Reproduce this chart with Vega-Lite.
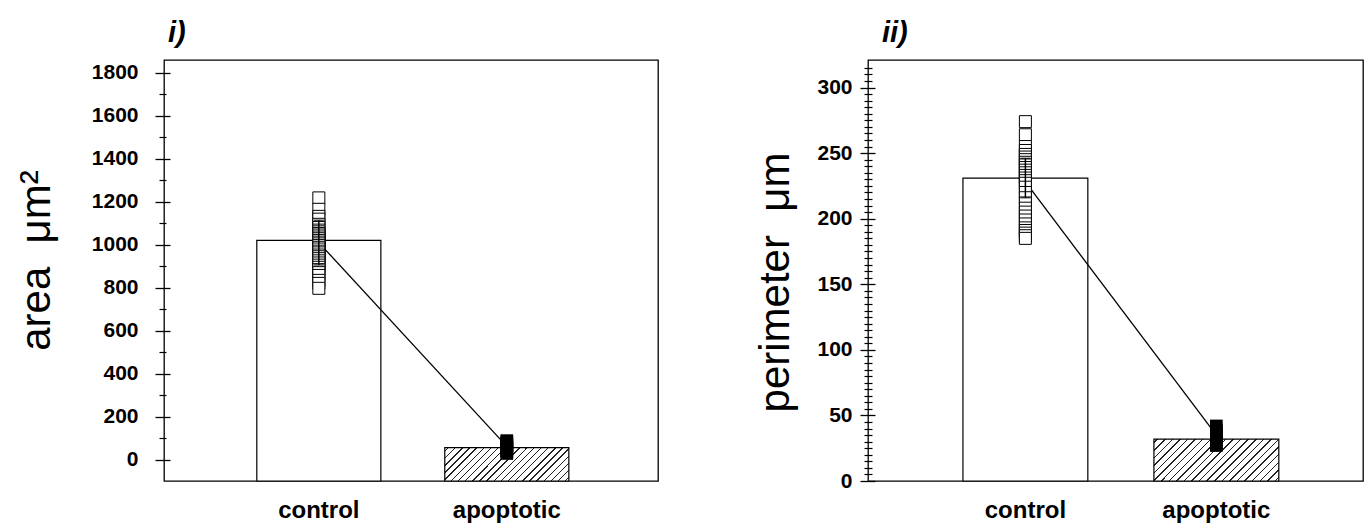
{
  "$schema": "https://vega.github.io/schema/vega-lite/v6.json",
  "padding": {"left": 14, "top": 18, "right": 2, "bottom": 2},
  "spacing": 210,
  "bounds": "flush",
  "datasets": {
    "area_bars": [
      {"group": "control", "area": 1020},
      {"group": "apoptotic", "area": 55}
    ],
    "area_points": [
      {"group": "control", "area": 1218}, {"group": "control", "area": 1165}, {"group": "control", "area": 1132},
      {"group": "control", "area": 1119}, {"group": "control", "area": 1095}, {"group": "control", "area": 1080},
      {"group": "control", "area": 1068}, {"group": "control", "area": 1060}, {"group": "control", "area": 1052},
      {"group": "control", "area": 1045}, {"group": "control", "area": 1036}, {"group": "control", "area": 1028},
      {"group": "control", "area": 1020}, {"group": "control", "area": 1012}, {"group": "control", "area": 1004},
      {"group": "control", "area": 996}, {"group": "control", "area": 988}, {"group": "control", "area": 980},
      {"group": "control", "area": 970}, {"group": "control", "area": 962}, {"group": "control", "area": 952},
      {"group": "control", "area": 944}, {"group": "control", "area": 935}, {"group": "control", "area": 925},
      {"group": "control", "area": 915}, {"group": "control", "area": 905}, {"group": "control", "area": 895},
      {"group": "control", "area": 884}, {"group": "control", "area": 870}, {"group": "control", "area": 857},
      {"group": "control", "area": 834}, {"group": "control", "area": 820}, {"group": "control", "area": 797},
      {"group": "apoptotic", "area": 28}, {"group": "apoptotic", "area": 34}, {"group": "apoptotic", "area": 40},
      {"group": "apoptotic", "area": 46}, {"group": "apoptotic", "area": 52}, {"group": "apoptotic", "area": 58},
      {"group": "apoptotic", "area": 64}, {"group": "apoptotic", "area": 70}, {"group": "apoptotic", "area": 76},
      {"group": "apoptotic", "area": 82}, {"group": "apoptotic", "area": 88}
    ],
    "area_summary": [
      {"group": "control", "mean": 1010, "lo": 906, "hi": 1114},
      {"group": "apoptotic", "mean": 61, "lo": 45, "hi": 77}
    ],
    "perim_bars": [
      {"group": "control", "perimeter": 231},
      {"group": "apoptotic", "perimeter": 32}
    ],
    "perim_points": [
      {"group": "control", "perimeter": 274}, {"group": "control", "perimeter": 264}, {"group": "control", "perimeter": 255},
      {"group": "control", "perimeter": 252}, {"group": "control", "perimeter": 249}, {"group": "control", "perimeter": 247},
      {"group": "control", "perimeter": 245}, {"group": "control", "perimeter": 243}, {"group": "control", "perimeter": 241},
      {"group": "control", "perimeter": 239}, {"group": "control", "perimeter": 237}, {"group": "control", "perimeter": 235},
      {"group": "control", "perimeter": 233}, {"group": "control", "perimeter": 231}, {"group": "control", "perimeter": 229},
      {"group": "control", "perimeter": 227}, {"group": "control", "perimeter": 224}, {"group": "control", "perimeter": 220},
      {"group": "control", "perimeter": 216}, {"group": "control", "perimeter": 212}, {"group": "control", "perimeter": 208},
      {"group": "control", "perimeter": 205}, {"group": "control", "perimeter": 202}, {"group": "control", "perimeter": 199},
      {"group": "control", "perimeter": 196}, {"group": "control", "perimeter": 193}, {"group": "control", "perimeter": 191},
      {"group": "control", "perimeter": 189}, {"group": "control", "perimeter": 187}, {"group": "control", "perimeter": 185},
      {"group": "apoptotic", "perimeter": 27}, {"group": "apoptotic", "perimeter": 29}, {"group": "apoptotic", "perimeter": 31},
      {"group": "apoptotic", "perimeter": 33}, {"group": "apoptotic", "perimeter": 35}, {"group": "apoptotic", "perimeter": 37},
      {"group": "apoptotic", "perimeter": 39}, {"group": "apoptotic", "perimeter": 42}
    ],
    "perim_summary": [
      {"group": "control", "mean": 228, "lo": 216, "hi": 246},
      {"group": "apoptotic", "mean": 35, "lo": 31, "hi": 39}
    ]
  },
  "hconcat": [
    {
      "width": 494,
      "height": 421,
      "title": {"text": "i)", "dx": 4, "offset": 12, "frame": "group"},
      "encoding": {
        "x": {
          "field": "group", "type": "nominal",
          "scale": {"type": "band", "domain": ["control", "apoptotic"], "paddingInner": 0.34, "paddingOuter": 0.484, "align": 0.51},
          "axis": {"title": null, "labelAngle": 0, "ticks": false, "tickSize": 0, "domain": false, "labelFontSize": 24, "labelFontWeight": "bold", "labelPadding": 17, "labelBaseline": "top"}
        }
      },
      "layer": [
        {
          "data": {"name": "area_bars"},
          "transform": [{"filter": "datum.group === 'control'"}],
          "mark": {"type": "bar", "fill": "white", "stroke": "black", "strokeWidth": 1.2},
          "encoding": {
            "y": {
              "field": "area", "type": "quantitative",
              "scale": {"domain": [-100, 1860], "nice": false, "zero": false},
              "axis": {
                "orient": "left", "values": [0, 200, 400, 600, 800, 1000, 1200, 1400, 1600, 1800], "format": "d",
                "grid": false, "domain": false, "tickSize": 15, "offset": -6, "tickWidth": 1.3,
                "labelPadding": 17, "labelFontSize": 21, "labelFontWeight": "bold",
                "title": "area \u00a0μm²", "titleFontSize": 42, "titleFontWeight": "normal",
                "titleAngle": -90, "titleX": -121, "titleY": 200, "titleBaseline": "alphabetic", "titleAlign": "center"
              }
            },
            "y2": {"datum": -100}
          }
        },
        {
          "data": {"name": "area_bars"},
          "transform": [{"filter": "datum.group === 'apoptotic'"}],
          "mark": {
            "type": "bar", "stroke": "black", "strokeWidth": 1.2,
            "fill": {
              "gradient": "linear", "x1": 0, "y1": 0, "x2": 1.183, "y2": 0.317,
              "stops": [
                {"offset": 0, "color": "white"},
                {"offset": 0.0182, "color": "white"}, {"offset": 0.0182, "color": "#222"}, {"offset": 0.0272, "color": "#222"}, {"offset": 0.0272, "color": "white"},
                {"offset": 0.0637, "color": "white"}, {"offset": 0.0637, "color": "#222"}, {"offset": 0.0727, "color": "#222"}, {"offset": 0.0727, "color": "white"},
                {"offset": 0.1091, "color": "white"}, {"offset": 0.1091, "color": "#222"}, {"offset": 0.1181, "color": "#222"}, {"offset": 0.1181, "color": "white"},
                {"offset": 0.1546, "color": "white"}, {"offset": 0.1546, "color": "#222"}, {"offset": 0.1636, "color": "#222"}, {"offset": 0.1636, "color": "white"},
                {"offset": 0.2000, "color": "white"}, {"offset": 0.2000, "color": "#222"}, {"offset": 0.2090, "color": "#222"}, {"offset": 0.2090, "color": "white"},
                {"offset": 0.2455, "color": "white"}, {"offset": 0.2455, "color": "#222"}, {"offset": 0.2545, "color": "#222"}, {"offset": 0.2545, "color": "white"},
                {"offset": 0.2910, "color": "white"}, {"offset": 0.2910, "color": "#222"}, {"offset": 0.3000, "color": "#222"}, {"offset": 0.3000, "color": "white"},
                {"offset": 0.3364, "color": "white"}, {"offset": 0.3364, "color": "#222"}, {"offset": 0.3454, "color": "#222"}, {"offset": 0.3454, "color": "white"},
                {"offset": 0.3819, "color": "white"}, {"offset": 0.3819, "color": "#222"}, {"offset": 0.3909, "color": "#222"}, {"offset": 0.3909, "color": "white"},
                {"offset": 0.4273, "color": "white"}, {"offset": 0.4273, "color": "#222"}, {"offset": 0.4363, "color": "#222"}, {"offset": 0.4363, "color": "white"},
                {"offset": 0.4728, "color": "white"}, {"offset": 0.4728, "color": "#222"}, {"offset": 0.4818, "color": "#222"}, {"offset": 0.4818, "color": "white"},
                {"offset": 0.5182, "color": "white"}, {"offset": 0.5182, "color": "#222"}, {"offset": 0.5272, "color": "#222"}, {"offset": 0.5272, "color": "white"},
                {"offset": 0.5637, "color": "white"}, {"offset": 0.5637, "color": "#222"}, {"offset": 0.5727, "color": "#222"}, {"offset": 0.5727, "color": "white"},
                {"offset": 0.6091, "color": "white"}, {"offset": 0.6091, "color": "#222"}, {"offset": 0.6181, "color": "#222"}, {"offset": 0.6181, "color": "white"},
                {"offset": 0.6546, "color": "white"}, {"offset": 0.6546, "color": "#222"}, {"offset": 0.6636, "color": "#222"}, {"offset": 0.6636, "color": "white"},
                {"offset": 0.7000, "color": "white"}, {"offset": 0.7000, "color": "#222"}, {"offset": 0.7090, "color": "#222"}, {"offset": 0.7090, "color": "white"},
                {"offset": 0.7455, "color": "white"}, {"offset": 0.7455, "color": "#222"}, {"offset": 0.7545, "color": "#222"}, {"offset": 0.7545, "color": "white"},
                {"offset": 0.7910, "color": "white"}, {"offset": 0.7910, "color": "#222"}, {"offset": 0.8000, "color": "#222"}, {"offset": 0.8000, "color": "white"},
                {"offset": 0.8364, "color": "white"}, {"offset": 0.8364, "color": "#222"}, {"offset": 0.8454, "color": "#222"}, {"offset": 0.8454, "color": "white"},
                {"offset": 0.8819, "color": "white"}, {"offset": 0.8819, "color": "#222"}, {"offset": 0.8909, "color": "#222"}, {"offset": 0.8909, "color": "white"},
                {"offset": 0.9273, "color": "white"}, {"offset": 0.9273, "color": "#222"}, {"offset": 0.9363, "color": "#222"}, {"offset": 0.9363, "color": "white"},
                {"offset": 0.9728, "color": "white"}, {"offset": 0.9728, "color": "#222"}, {"offset": 0.9818, "color": "#222"}, {"offset": 0.9818, "color": "white"},
                {"offset": 1, "color": "white"}
              ]
            }
          },
          "encoding": {
            "y": {"field": "area", "type": "quantitative", "scale": {"domain": [-100, 1860], "nice": false, "zero": false}, "axis": null},
            "y2": {"datum": -100}
          }
        },
        {
          "data": {"name": "area_summary"},
          "mark": {"type": "line", "color": "black", "strokeWidth": 1.3},
          "encoding": {
            "y": {
              "field": "mean", "type": "quantitative",
              "scale": {"domain": [-100, 1860], "nice": false, "zero": false},
              "axis": {
                "orient": "left", "values": [100, 300, 500, 700, 900, 1100, 1300, 1500, 1700],
                "labels": false, "grid": false, "domain": false, "tickSize": 7, "offset": -2, "tickWidth": 1.2, "title": null
              }
            }
          }
        },
        {
          "data": {"name": "area_points"},
          "transform": [{"filter": "datum.group === 'control'"}],
          "mark": {"type": "point", "shape": "square", "filled": true, "fill": "white", "stroke": "black", "strokeWidth": 1, "size": 144, "opacity": 1},
          "encoding": {
            "y": {"field": "area", "type": "quantitative", "scale": {"domain": [-100, 1860], "nice": false, "zero": false}, "axis": null}
          }
        },
        {
          "data": {"name": "area_points"},
          "transform": [{"filter": "datum.group === 'apoptotic'"}],
          "mark": {"type": "point", "shape": "square", "filled": true, "color": "black", "size": 160, "opacity": 1},
          "encoding": {
            "y": {"field": "area", "type": "quantitative", "scale": {"domain": [-100, 1860], "nice": false, "zero": false}, "axis": null}
          }
        },
        {
          "data": {"name": "area_summary"},
          "mark": {"type": "rule", "color": "black", "strokeWidth": 1.5},
          "encoding": {
            "y": {"field": "lo", "type": "quantitative", "scale": {"domain": [-100, 1860], "nice": false, "zero": false}, "axis": null},
            "y2": {"field": "hi"}
          }
        },
        {
          "data": {"name": "area_summary"},
          "mark": {"type": "tick", "orient": "horizontal", "color": "black", "size": 10, "thickness": 1.5},
          "encoding": {
            "y": {"field": "lo", "type": "quantitative", "scale": {"domain": [-100, 1860], "nice": false, "zero": false}, "axis": null}
          }
        },
        {
          "data": {"name": "area_summary"},
          "mark": {"type": "tick", "orient": "horizontal", "color": "black", "size": 10, "thickness": 1.5},
          "encoding": {
            "y": {"field": "hi", "type": "quantitative", "scale": {"domain": [-100, 1860], "nice": false, "zero": false}, "axis": null}
          }
        }
      ],
      "resolve": {"axis": {"y": "independent"}}
    },
    {
      "width": 495,
      "height": 421,
      "title": {"text": "ii)", "dx": 14, "offset": 12, "frame": "group"},
      "encoding": {
        "x": {
          "field": "group", "type": "nominal",
          "scale": {"type": "band", "domain": ["control", "apoptotic"], "paddingInner": 0.346, "paddingOuter": 0.469, "align": 0.53},
          "axis": {"title": null, "labelAngle": 0, "ticks": false, "tickSize": 0, "domain": false, "labelFontSize": 24, "labelFontWeight": "bold", "labelPadding": 17, "labelBaseline": "top"}
        }
      },
      "layer": [
        {
          "data": {"name": "perim_bars"},
          "transform": [{"filter": "datum.group === 'control'"}],
          "mark": {"type": "bar", "fill": "white", "stroke": "black", "strokeWidth": 1.2},
          "encoding": {
            "y": {
              "field": "perimeter", "type": "quantitative",
              "scale": {"domain": [0, 321], "nice": false, "zero": false},
              "axis": {
                "orient": "left", "values": [0, 50, 100, 150, 200, 250, 300], "format": "d",
                "grid": false, "domain": false, "tickSize": 15, "offset": -7, "tickWidth": 1.3,
                "labelPadding": 8, "labelFontSize": 21, "labelFontWeight": "bold",
                "title": "perimeter \u00a0μm", "titleFontSize": 42, "titleFontWeight": "normal",
                "titleAngle": -90, "titleX": -87, "titleY": 222, "titleBaseline": "alphabetic", "titleAlign": "center"
              }
            },
            "y2": {"datum": 0}
          }
        },
        {
          "data": {"name": "perim_bars"},
          "transform": [{"filter": "datum.group === 'apoptotic'"}],
          "mark": {
            "type": "bar", "stroke": "black", "strokeWidth": 1.2,
            "fill": {
              "gradient": "linear", "x1": 0, "y1": 0, "x2": 1.2, "y2": 0.403,
              "stops": [
                {"offset": 0, "color": "white"},
                {"offset": 0.0182, "color": "white"}, {"offset": 0.0182, "color": "#222"}, {"offset": 0.0272, "color": "#222"}, {"offset": 0.0272, "color": "white"},
                {"offset": 0.0637, "color": "white"}, {"offset": 0.0637, "color": "#222"}, {"offset": 0.0727, "color": "#222"}, {"offset": 0.0727, "color": "white"},
                {"offset": 0.1091, "color": "white"}, {"offset": 0.1091, "color": "#222"}, {"offset": 0.1181, "color": "#222"}, {"offset": 0.1181, "color": "white"},
                {"offset": 0.1546, "color": "white"}, {"offset": 0.1546, "color": "#222"}, {"offset": 0.1636, "color": "#222"}, {"offset": 0.1636, "color": "white"},
                {"offset": 0.2000, "color": "white"}, {"offset": 0.2000, "color": "#222"}, {"offset": 0.2090, "color": "#222"}, {"offset": 0.2090, "color": "white"},
                {"offset": 0.2455, "color": "white"}, {"offset": 0.2455, "color": "#222"}, {"offset": 0.2545, "color": "#222"}, {"offset": 0.2545, "color": "white"},
                {"offset": 0.2910, "color": "white"}, {"offset": 0.2910, "color": "#222"}, {"offset": 0.3000, "color": "#222"}, {"offset": 0.3000, "color": "white"},
                {"offset": 0.3364, "color": "white"}, {"offset": 0.3364, "color": "#222"}, {"offset": 0.3454, "color": "#222"}, {"offset": 0.3454, "color": "white"},
                {"offset": 0.3819, "color": "white"}, {"offset": 0.3819, "color": "#222"}, {"offset": 0.3909, "color": "#222"}, {"offset": 0.3909, "color": "white"},
                {"offset": 0.4273, "color": "white"}, {"offset": 0.4273, "color": "#222"}, {"offset": 0.4363, "color": "#222"}, {"offset": 0.4363, "color": "white"},
                {"offset": 0.4728, "color": "white"}, {"offset": 0.4728, "color": "#222"}, {"offset": 0.4818, "color": "#222"}, {"offset": 0.4818, "color": "white"},
                {"offset": 0.5182, "color": "white"}, {"offset": 0.5182, "color": "#222"}, {"offset": 0.5272, "color": "#222"}, {"offset": 0.5272, "color": "white"},
                {"offset": 0.5637, "color": "white"}, {"offset": 0.5637, "color": "#222"}, {"offset": 0.5727, "color": "#222"}, {"offset": 0.5727, "color": "white"},
                {"offset": 0.6091, "color": "white"}, {"offset": 0.6091, "color": "#222"}, {"offset": 0.6181, "color": "#222"}, {"offset": 0.6181, "color": "white"},
                {"offset": 0.6546, "color": "white"}, {"offset": 0.6546, "color": "#222"}, {"offset": 0.6636, "color": "#222"}, {"offset": 0.6636, "color": "white"},
                {"offset": 0.7000, "color": "white"}, {"offset": 0.7000, "color": "#222"}, {"offset": 0.7090, "color": "#222"}, {"offset": 0.7090, "color": "white"},
                {"offset": 0.7455, "color": "white"}, {"offset": 0.7455, "color": "#222"}, {"offset": 0.7545, "color": "#222"}, {"offset": 0.7545, "color": "white"},
                {"offset": 0.7910, "color": "white"}, {"offset": 0.7910, "color": "#222"}, {"offset": 0.8000, "color": "#222"}, {"offset": 0.8000, "color": "white"},
                {"offset": 0.8364, "color": "white"}, {"offset": 0.8364, "color": "#222"}, {"offset": 0.8454, "color": "#222"}, {"offset": 0.8454, "color": "white"},
                {"offset": 0.8819, "color": "white"}, {"offset": 0.8819, "color": "#222"}, {"offset": 0.8909, "color": "#222"}, {"offset": 0.8909, "color": "white"},
                {"offset": 0.9273, "color": "white"}, {"offset": 0.9273, "color": "#222"}, {"offset": 0.9363, "color": "#222"}, {"offset": 0.9363, "color": "white"},
                {"offset": 0.9728, "color": "white"}, {"offset": 0.9728, "color": "#222"}, {"offset": 0.9818, "color": "#222"}, {"offset": 0.9818, "color": "white"},
                {"offset": 1, "color": "white"}
              ]
            }
          },
          "encoding": {
            "y": {"field": "perimeter", "type": "quantitative", "scale": {"domain": [0, 321], "nice": false, "zero": false}, "axis": null},
            "y2": {"datum": 0}
          }
        },
        {
          "data": {"name": "perim_summary"},
          "mark": {"type": "line", "color": "black", "strokeWidth": 1.3},
          "encoding": {
            "y": {
              "field": "mean", "type": "quantitative",
              "scale": {"domain": [0, 321], "nice": false, "zero": false},
              "axis": {
                "orient": "left",
                "values": [5, 10, 15, 20, 25, 30, 35, 40, 45, 55, 60, 65, 70, 75, 80, 85, 90, 95, 105, 110, 115, 120, 125, 130, 135, 140, 145, 155, 160, 165, 170, 175, 180, 185, 190, 195, 205, 210, 215, 220, 225, 230, 235, 240, 245, 255, 260, 265, 270, 275, 280, 285, 290, 295, 305, 310, 315],
                "labels": false, "grid": false, "domain": false, "tickSize": 8, "offset": -4, "tickWidth": 1.2, "title": null
              }
            }
          }
        },
        {
          "data": {"name": "perim_points"},
          "transform": [{"filter": "datum.group === 'control'"}],
          "mark": {"type": "point", "shape": "square", "filled": true, "fill": "white", "stroke": "black", "strokeWidth": 1, "size": 144, "opacity": 1},
          "encoding": {
            "y": {"field": "perimeter", "type": "quantitative", "scale": {"domain": [0, 321], "nice": false, "zero": false}, "axis": null}
          }
        },
        {
          "data": {"name": "perim_points"},
          "transform": [{"filter": "datum.group === 'apoptotic'"}],
          "mark": {"type": "point", "shape": "square", "filled": true, "color": "black", "size": 160, "opacity": 1},
          "encoding": {
            "y": {"field": "perimeter", "type": "quantitative", "scale": {"domain": [0, 321], "nice": false, "zero": false}, "axis": null}
          }
        },
        {
          "data": {"name": "perim_summary"},
          "mark": {"type": "rule", "color": "black", "strokeWidth": 1.5},
          "encoding": {
            "y": {"field": "lo", "type": "quantitative", "scale": {"domain": [0, 321], "nice": false, "zero": false}, "axis": null},
            "y2": {"field": "hi"}
          }
        },
        {
          "data": {"name": "perim_summary"},
          "mark": {"type": "tick", "orient": "horizontal", "color": "black", "size": 10, "thickness": 1.5},
          "encoding": {
            "y": {"field": "lo", "type": "quantitative", "scale": {"domain": [0, 321], "nice": false, "zero": false}, "axis": null}
          }
        },
        {
          "data": {"name": "perim_summary"},
          "mark": {"type": "tick", "orient": "horizontal", "color": "black", "size": 10, "thickness": 1.5},
          "encoding": {
            "y": {"field": "hi", "type": "quantitative", "scale": {"domain": [0, 321], "nice": false, "zero": false}, "axis": null}
          }
        }
      ],
      "resolve": {"axis": {"y": "independent"}}
    }
  ],
  "config": {
    "font": "Liberation Sans",
    "view": {"stroke": "black", "strokeWidth": 1.3},
    "axis": {"labelFont": "Liberation Sans", "titleFont": "Liberation Sans", "labelColor": "black", "titleColor": "black", "tickColor": "black"},
    "title": {"font": "Liberation Sans", "fontSize": 29, "fontStyle": "italic", "fontWeight": "bold", "anchor": "start", "color": "black"}
  }
}
